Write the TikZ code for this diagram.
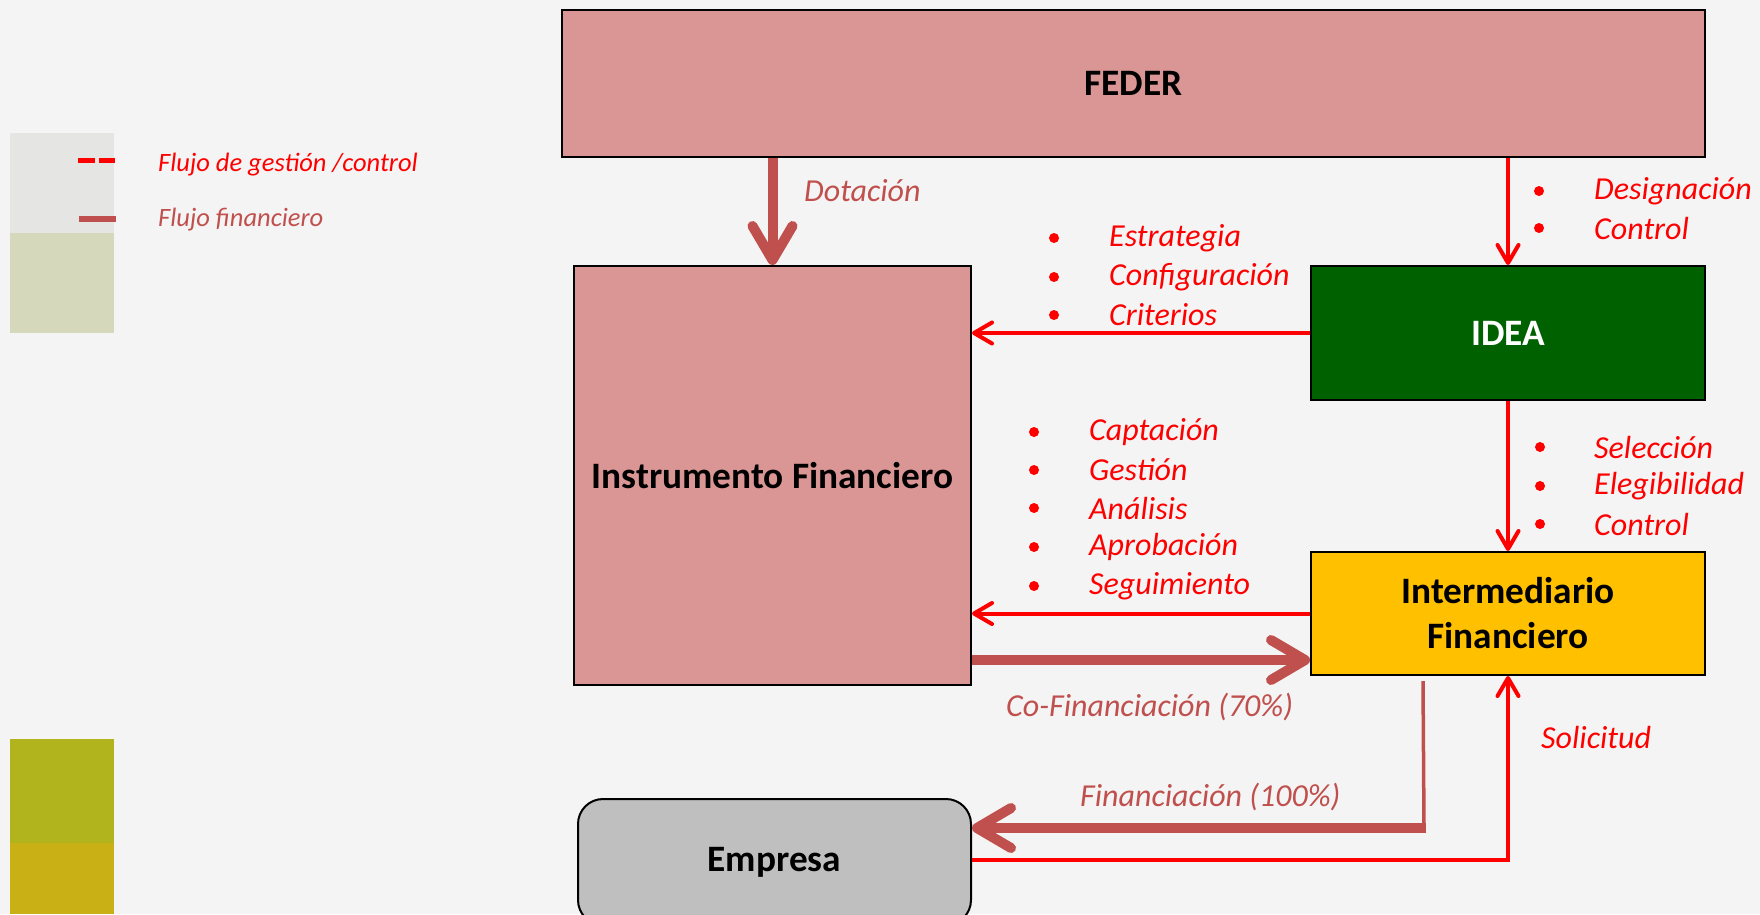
\documentclass[tikz,border=0pt]{standalone}
\usepackage{fontspec}
\setmainfont{Carlito}
\usetikzlibrary{arrows.meta,calc}
\definecolor{bgc}{HTML}{F4F4F4}
\definecolor{pinkf}{HTML}{D99694}
\definecolor{ideag}{HTML}{006100}
\definecolor{interf}{HTML}{FFC000}
\definecolor{empf}{HTML}{BFBFBF}
\definecolor{brn}{HTML}{C0504D}
\definecolor{rd}{HTML}{FF0000}
\definecolor{legg}{HTML}{E5E5E4}
\definecolor{legv}{HTML}{D6D8BC}
\definecolor{olv}{HTML}{B2B41E}
\definecolor{mus}{HTML}{C9B014}
\begin{document}
\begin{tikzpicture}[x=1pt,y=-1pt,
 bx/.style={draw=black,line width=2pt,inner sep=0pt,align=center,font=\fontsize{37.3}{45}\selectfont\bfseries},
 lbl/.style={anchor=west,inner sep=0pt,font=\fontsize{32}{39}\selectfont\itshape,text=rd},
 lblb/.style={lbl,text=brn},
 blt/.style={circle,fill=rd,inner sep=0pt,minimum size=10pt},
 fin/.style={draw=brn,line width=10pt,-{Straight Barb[round,length=34pt,width=40pt]}},
 ctl/.style={draw=rd,line width=4pt,-{Straight Barb[round,length=18pt,width=21pt]}},
]
\useasboundingbox (0,0) rectangle (1760,914);
\clip (0,0) rectangle (1760,914);
\fill[bgc] (0,0) rectangle (1760,914);
% legend panels
\fill[legg] (10,133) rectangle (114,233);
\fill[legv] (10,233) rectangle (114,333);
\fill[olv] (10,739) rectangle (114,843);
\fill[mus] (10,843) rectangle (114,914);
\draw[rd,line width=5pt,dash pattern=on 17pt off 4pt] (78,160) -- (115,160);
\draw[brn,line width=6pt] (79,219) -- (116,219);
\node[lbl,font=\fontsize{26.5}{32}\selectfont\itshape] (leg1) at (158,165) {Flujo de gestión /control};
\node[lblb,font=\fontsize{26.5}{32}\selectfont\itshape] (leg2) at (158,220) {Flujo financiero};
% boxes
\node[bx,fill=pinkf,minimum width=1143pt,minimum height=147pt] (feder) at (1133.5,83.5) {FEDER};
\node[bx,fill=pinkf,minimum width=397pt,minimum height=419pt] (inst) at (772.5,475.5) {Instrumento Financiero};
\node[bx,fill=ideag,text=white,minimum width=394pt,minimum height=134pt] (idea) at (1508,333) {IDEA};
\node[bx,fill=interf,minimum width=394pt,minimum height=123pt] (inter) at (1508,613.5) {Intermediario\\Financiero};
\node[bx,fill=empf,rounded corners=25pt,minimum width=393pt,minimum height=126pt] (emp) at (774.5,862) {Empresa};
% connectors
\draw[fin] (feder.south -| inst.north) -- (inst.north);
\draw[ctl] (feder.south -| idea.north) -- (idea.north);
\draw[ctl] (idea.west) -- (idea.west -| inst.east);
\draw[ctl] (idea.south) -- (inter.north);
\draw[ctl] (inter.west) -- (inter.west -| inst.east);
\coordinate (cf) at ($(inst.south east)+(0,-26)$);
\draw[fin] (cf) -- (cf -| inter.west);
\coordinate (fs) at ($(inter.south)+(-85,5)$);
\coordinate (fc) at ($(inter.south)+(-84,152)$);
\draw[brn,line width=3.5pt] (fs) -- (fc);
\draw[fin] ($(fc)+(2,0)$) -- (fc -| emp.east);
\coordinate (sl) at ($(emp.east)+(0,-2)$);
\draw[ctl] (sl) -| (inter.south);
% labels
\node[lblb] (dot) at (804,191) {Dotación};
\foreach \t/\y [count=\i] in {Designación/191,Control/228}{
  \node[blt] (da\i) at (1539,\y) {};
  \node[lbl] (dt\i) at (1594,\y) {\t};}
\foreach \t/\y [count=\i] in {Estrategia/238,Configuración/277,Criterios/315}{
  \node[blt] (ea\i) at (1054,\y) {};
  \node[lbl] (et\i) at (1109,\y) {\t};}
\foreach \t/\y [count=\i] in {Captación/432,Gestión/470,Análisis/508,Aprobación/547,Seguimiento/586}{
  \node[blt] (ca\i) at (1034,\y) {};
  \node[lbl] (ct\i) at (1089,\y) {\t};}
\foreach \t/\y [count=\i] in {Selección/447,Elegibilidad/486,Control/524}{
  \node[blt] (sa\i) at (1540,\y) {};
  \node[lbl] (st\i) at (1594,\y) {\t};}
\node[lblb] (cof) at (1006,707) {Co-Financiación (70\%)};
\node[lblb] (f100) at (1080,797) {Financiación (100\%)};
\node[lbl] (sol) at (1541,737) {Solicitud};
\end{tikzpicture}
\end{document}
